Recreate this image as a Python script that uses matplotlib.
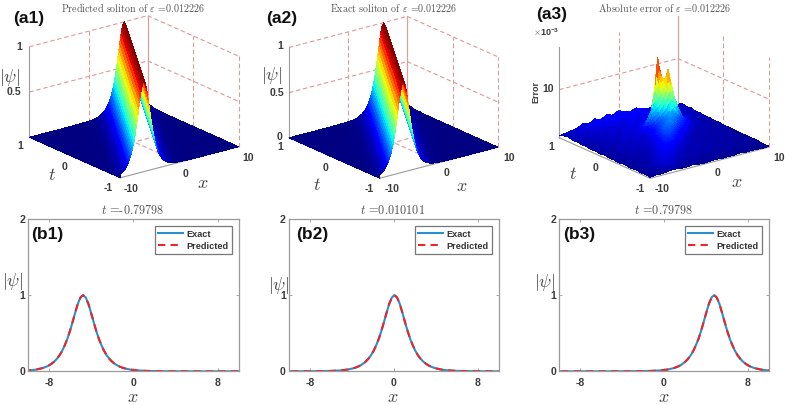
import numpy as np
import matplotlib
matplotlib.use("Agg")
import matplotlib.pyplot as plt
from mpl_toolkits.mplot3d import proj3d

W, H = 795, 406
plt.rcParams['mathtext.fontset'] = 'cm'
plt.rcParams['axes.unicode_minus'] = False

# ---------- data ----------
ridge_t = [-1.0,-0.9,-0.8,-0.7,-0.6,-0.5,-0.4,-0.3,-0.2,-0.1,0.0,0.1,0.2,0.3,0.4,0.5,0.6,0.7,0.8,0.9,1.0]
ridge_x = [-6.0,-5.4,-4.8,-4.2,-3.6,-3.0,-2.4,-1.8,-1.2,-0.6,0.0,0.6,1.2,1.8,2.4,3.0,3.6,4.2,4.8,5.4,6.0]
offset = [-17,-12,-10,-8,-6,-5,-4.5,-4,-3.75,-3.5,-3.25,-3,-2.75,-2.5,-2.25,-2,-1.75,-1.5,-1.25,-1,-0.75,-0.5,-0.25,
          0,0.25,0.5,0.75,1,1.25,1.5,1.75,2,2.25,2.5,2.75,3,3.25,3.5,3.75,4,4.5,5,6,8,10,12,17]
psi_exact = [0,0,0,0.001,0.005,0.013,0.022,0.037,0.047,0.060,0.077,0.099,0.127,0.163,0.208,0.266,0.340,0.425,0.530,0.648,0.771,0.887,0.969,
             1,0.969,0.887,0.771,0.648,0.530,0.425,0.340,0.266,0.208,0.163,0.127,0.099,0.077,0.060,0.047,0.037,0.022,0.013,0.005,0.001,0,0,0]
psi_predicted = list(psi_exact)
slice_t_labels = ['-0.79798', '0.010101', '0.79798']
slice_center = [-4.79, 0.06, 4.79]

err_x = list(range(-10, 11))
err_t = ridge_t
# |error| in units of 1e-3; rows run t=-1 ... 1, columns x=-10 ... 10
err_table = [
 [0.2,0.4,0.3,0.5,0.6,0.4,0.3,0.5,0.3,0.2,0.3,0.4,0.2,0.3,0.2,0.4,0.2,0.3,0.2,0.1,0.2],
 [0.4,0.7,0.5,0.8,1.0,0.8,0.6,0.4,0.6,0.3,0.5,0.4,0.6,0.3,0.5,0.3,0.4,0.5,0.3,0.4,0.2],
 [0.3,0.5,0.8,1.0,1.2,1.1,0.9,0.7,0.5,0.7,0.4,0.6,0.3,0.7,0.4,0.6,0.3,0.5,0.4,0.3,0.3],
 [0.5,0.4,0.6,0.9,1.3,1.4,1.2,0.8,0.9,0.5,0.7,0.5,0.8,0.4,0.6,0.4,0.7,0.3,0.6,0.4,0.4],
 [0.3,0.6,0.5,0.7,1.0,1.5,1.6,1.3,0.8,0.7,0.6,0.9,0.5,0.8,0.5,0.7,0.4,0.6,0.3,0.5,0.3],
 [0.4,0.3,0.7,0.5,0.9,1.2,1.7,1.8,1.4,1.0,0.8,0.6,0.9,0.5,0.8,0.4,0.6,0.4,0.7,0.3,0.4],
 [0.5,0.6,0.4,0.8,0.6,1.0,1.5,2.1,2.0,1.5,1.0,0.8,0.6,0.9,0.5,0.7,0.5,0.8,0.4,0.5,0.3],
 [0.3,0.4,0.7,0.5,0.8,0.7,1.2,1.8,2.6,2.4,1.6,1.1,0.8,0.6,0.8,0.5,0.7,0.4,0.6,0.3,0.4],
 [0.5,0.7,0.4,0.9,0.6,0.8,0.9,1.4,2.2,3.2,2.6,1.7,1.1,0.7,0.6,0.9,0.4,0.7,0.5,0.6,0.4],
 [0.4,0.5,0.8,0.6,1.0,0.7,1.0,1.1,1.8,2.9,3.8,2.8,1.8,1.2,0.8,0.5,0.8,0.5,0.6,0.4,0.5],
 [0.6,0.4,0.6,0.9,0.7,1.1,0.8,1.2,1.4,2.4,3.4,4.4,3.0,2.0,1.3,0.8,0.6,0.9,0.4,0.7,0.4],
 [0.4,0.7,0.5,0.8,1.0,0.7,1.2,0.9,1.3,1.8,2.8,3.6,4.8,3.3,2.2,1.3,0.8,0.6,0.8,0.5,0.6],
 [0.6,0.5,0.9,0.6,0.8,1.2,0.9,1.3,1.1,1.6,2.6,3.4,4.4,5.4,3.6,2.4,1.4,0.9,0.6,0.7,0.5],
 [0.5,0.8,0.6,1.0,0.7,0.9,1.3,1.0,1.4,1.8,5.0,6.5,9.0,13.0,7.0,3.3,1.6,1.0,0.7,0.5,0.7],
 [0.7,0.5,0.9,0.7,1.1,0.8,1.0,1.4,1.1,1.5,2.2,3.0,15.3,6.8,3.6,2.8,1.9,1.2,0.8,0.9,0.6],
 [0.6,0.9,0.7,1.1,0.8,1.2,0.9,1.1,1.5,1.2,1.6,2.0,2.6,2.8,2.4,2.2,1.7,1.3,1.0,0.7,0.8],
 [0.8,0.6,1.0,0.8,1.2,0.9,1.3,1.0,1.2,1.6,1.3,1.5,1.9,2.0,1.8,1.7,1.9,1.4,1.0,0.9,0.7],
 [0.7,1.0,0.8,1.2,0.9,1.4,1.1,1.5,1.2,1.4,1.7,1.4,1.6,1.5,1.7,1.4,1.8,1.5,1.1,0.8,1.0],
 [1.0,0.8,1.3,1.0,1.5,1.2,1.6,1.3,1.7,1.4,1.6,1.8,1.5,1.9,1.6,1.3,1.5,1.6,1.2,1.0,0.8],
 [0.8,1.2,1.0,1.6,1.3,1.8,1.4,1.9,1.5,2.0,1.7,1.5,2.1,1.7,1.4,1.8,1.3,1.2,1.5,0.9,1.1],
 [0.4,0.6,0.8,1.0,1.6,1.3,2.0,1.5,2.2,1.8,2.4,1.9,1.6,2.0,1.5,1.2,1.4,0.9,1.1,0.7,0.5],
]

x_lim = (-10, 10)
t_lim = (-1, 1)
ELEV, AZIM = 20, -127.5
JET = 'jet'
GRID = '#dc9a9a'
AXC = '#9a9a9a'
TXT = '#3c3c3c'
TITLE = '#555555'


def shade_interp(a, nr, nc):
    """Subdivide a mesh for display only, as MATLAB's 'shading interp' does."""
    a = np.asarray(a, float)
    ri = np.linspace(0, a.shape[0] - 1, (a.shape[0] - 1) * nr + 1)
    ci = np.linspace(0, a.shape[1] - 1, (a.shape[1] - 1) * nc + 1)
    b = np.array([np.interp(ci, np.arange(a.shape[1]), row) for row in a])
    return np.array([np.interp(ri, np.arange(a.shape[0]), col) for col in b.T]).T


def px(x, y, s, **kw):
    kw.setdefault('ha', 'center')
    kw.setdefault('va', 'center')
    kw.setdefault('color', TXT)
    return fig.text(x / W, 1 - y / H, s, **kw)


def tick(x, y, s, size=7.6):
    px(x, y, s, family='Liberation Sans', fontweight='bold', fontsize=size)


def place(ax, L, cx, cy):
    ax.set_position([(cx - L / 2) / W, (H - cy - L / 2) / H, L / W, L / H])
    ax.apply_aspect()


def project(ax, p):
    a, b, _ = proj3d.proj_transform(p[0], p[1], p[2], ax.get_proj())
    d = ax.transData.transform((a, b))
    return d[0], H - d[1]


def make3d(zmax, z_aspect, left, right):
    ax = fig.add_axes([0, 0, 1, 1], projection='3d')
    ax.set_proj_type('ortho')
    ax.view_init(elev=ELEV, azim=AZIM)
    ax.set_xlim(*x_lim); ax.set_ylim(*t_lim); ax.set_zlim(0, zmax)
    ax.set_box_aspect((1, 1, z_aspect))
    ax.set_axis_off()
    ax.computed_zorder = False
    L, cx, cy = 300.0, (left[0] + right[0]) / 2, (left[1] + right[1]) / 2
    for _ in range(3):
        place(ax, L, cx, cy)
        a = project(ax, (x_lim[0], t_lim[1], 0))
        b = project(ax, (x_lim[1], t_lim[0], 0))
        L *= (right[0] - left[0]) / (b[0] - a[0])
        cx += (left[0] + right[0]) / 2 - (a[0] + b[0]) / 2
        cy += (left[1] + right[1]) / 2 - (a[1] + b[1]) / 2
    place(ax, L, cx, cy)
    return ax


def walls(ax, zmax, zlines, top=True, floor=True):
    x0, x1 = x_lim; t0, t1 = t_lim
    st = dict(color=GRID, lw=0.8, ls=(0, (4, 2.5)), zorder=1)
    for z in zlines:
        ax.plot([x0, x1], [t1, t1], [z, z], **st)
        ax.plot([x1, x1], [t1, t0], [z, z], **st)
    for xv in (0,):
        ax.plot([xv, xv], [t1, t1], [0, zmax], **st)
    ax.plot([x1, x1], [0, 0], [0, zmax], **st)
    ax.plot([x1, x1], [t0, t0], [0, zmax], **st)
    ax.plot([x1, x1], [t1, t1], [0, zmax], color='#d9a0a0', lw=0.9, zorder=1)
    if floor:
        ax.plot([x0, x1], [0, 0], [0, 0], **st)
        ax.plot([0, 0], [t0, t1], [0, 0], **st)


def front(ax, zmax):
    x0, x1 = x_lim; t0, t1 = t_lim
    st = dict(color=AXC, lw=0.8, zorder=1.5)
    ax.plot([x0, x0], [t1, t1], [0, zmax], **st)
    ax.plot([x0, x0], [t0, t1], [0, 0], **st)
    ax.plot([x0, x1], [t0, t0], [0, 0], **st)


fig = plt.figure(figsize=(W / 100, H / 100), dpi=100, facecolor='white')

# ---------- soliton surfaces ----------
Xs = np.clip(np.add.outer(np.array(ridge_x), np.array(offset)), *x_lim)
Ts = np.outer(np.array(ridge_t), np.ones(len(offset)))
Zs = np.outer(np.ones(len(ridge_t)), np.array(psi_exact))
Xf, Tf, Zf = (shade_interp(m, 2, 2) for m in (Xs, Ts, Zs))

anchors = [((29.3, 138), (238.7, 148)), ((289, 139), (498, 148))]
for left, right in anchors:
    ax = make3d(1, 0.645, left, right)
    walls(ax, 1, [0.5, 1])
    front(ax, 1)
    ax.plot_surface(Xf, Tf, Zf, rcount=Xf.shape[0], ccount=Xf.shape[1], cmap=JET, vmin=0, vmax=1,
                    shade=False, linewidth=0, antialiased=False, zorder=2)

# ---------- error surface ----------
ZMAX3 = 18.8
ax = make3d(ZMAX3, 0.645, (559.3, 139), (768.7, 148))
walls(ax, ZMAX3, [10], floor=False)
front(ax, ZMAX3)
Xe, Te = np.meshgrid(err_x, err_t)
Xg, Tg, Zg = (shade_interp(m, 4, 4) for m in (Xe, Te, err_table))
ax.plot_surface(Xg, Tg, Zg, rcount=Xg.shape[0], ccount=Xg.shape[1], cmap=JET, vmin=0, vmax=16,
                shade=False, linewidth=0, antialiased=False, zorder=2)

# ---------- texts of the top row ----------
TS = dict(family='cmr10', color=TITLE, fontsize=7.2)
px(133, 8, r'Predicted soliton of $\varepsilon$ =0.012226', **TS)
px(394, 7.5, r'Exact soliton of $\varepsilon$ =0.012226', **TS)
px(664, 7.5, r'Absolute error of $\varepsilon$ =0.012226', **TS)
for x, y, s in [(29, 18, '(a1)'), (282, 18, '(a2)'), (552, 15, '(a3)')]:
    px(x, y, s, family='Liberation Sans', fontweight='bold', fontsize=12.5, color='#111111')
for x, y, s in [(19, 47, '1'), (14, 92, '0.5'), (20, 146, '1'), (65, 167, '0'), (108, 188, '-1'),
                (131, 189, '-10'), (186, 174, '0'), (248, 158, '10'),
                (280, 46, '1'), (277, 93, '0.5'), (280, 137, '0'), (280, 147, '1'), (326, 168, '0'),
                (369, 189, '-1'), (392, 189, '-10'), (447, 173, '0'), (509, 158, '10'),
                (548, 89, '10'), (551, 147, '1'), (596, 168, '0'), (640, 189, '-1'),
                (662, 189, '-10'), (718, 173, '0'), (779, 158, '10')]:
    tick(x, y, s)
MS = dict(color='#444444', fontsize=13)
for x, y, s in [(10, 77, r'$|\psi|$'), (272, 76, r'$|\psi|$'),
                (52, 175, r'$t$'), (317, 185, r'$t$'), (573, 174, r'$t$'),
                (203, 183, r'$x$'), (462, 186, r'$x$'), (737, 182, r'$x$')]:
    px(x, y, s, **MS)
px(546, 32, r'$\times\mathregular{10^{-3}}$', family='Liberation Sans', fontweight='bold', fontsize=6.5)
px(536, 92, 'Error', family='Liberation Sans', fontweight='bold', fontsize=6.5, rotation=90)

# ---------- bottom row ----------
boxes = [(28.3, 238.7), (289, 498.7), (559.3, 768.7)]
labels = ['(b1)', '(b2)', '(b3)']
label_xy = [(47, 235), (312, 235), (579, 235)]
title_x = [133, 393, 664]
psi_xy = [(13, 282), (279, 286), (545, 283)]
TOP, BOT = 220, 372.3
offs = np.array(offset)
for i in range(3):
    l, r = boxes[i]
    ax = fig.add_axes([l / W, 1 - BOT / H, (r - l) / W, (BOT - TOP) / H])
    xs = slice_center[i] + offs
    ax.plot(xs, psi_exact, color='#2a8fd0', lw=1.5, label='Exact')
    ax.plot(xs, psi_predicted, color='#e8262c', lw=1.5, ls=(0, (3.5, 2.5)), label='Predicted')
    ax.set_xlim(*x_lim); ax.set_ylim(0, 2)
    ax.set_xticks([-8, 0, 8]); ax.set_yticks([0, 1, 2])
    ax.set_xticklabels([]); ax.set_yticklabels([])
    ax.tick_params(direction='in', length=2, width=0.6, color=AXC, top=True, right=True)
    for s in ax.spines.values():
        s.set_color(AXC); s.set_linewidth(0.9)
    leg = ax.legend(loc='upper right', bbox_to_anchor=(0.968, 0.954), borderaxespad=0, fancybox=False,
                    framealpha=1, edgecolor='#777777', handlelength=2.7, handletextpad=0.4, labelspacing=0.35,
                    borderpad=0.35, prop=dict(family='Liberation Sans', weight='bold', size=6.6))
    leg.get_frame().set_linewidth(0.9)
    for t in leg.get_texts():
        t.set_color('#333333')
    sx = lambda v: l + (v + 10) / 20 * (r - l)
    for v in ax.get_xticks():
        tick(sx(v), 383, '%d' % v)
    for v, y in zip(ax.get_yticks(), (372, 296, 220)):
        tick(l - 6, y, '%d' % v)
    px(title_x[i], 211, r'$t$ =' + slice_t_labels[i], family='cmr10', color=TITLE, fontsize=8.8)
    px(*label_xy[i], labels[i], family='Liberation Sans', fontweight='bold', fontsize=12.5, color='#111111')
    px(*psi_xy[i], r'$|\psi|$', **MS)
    px(title_x[i], 397, r'$x$', **MS)

fig.savefig('out.png', dpi=100)
